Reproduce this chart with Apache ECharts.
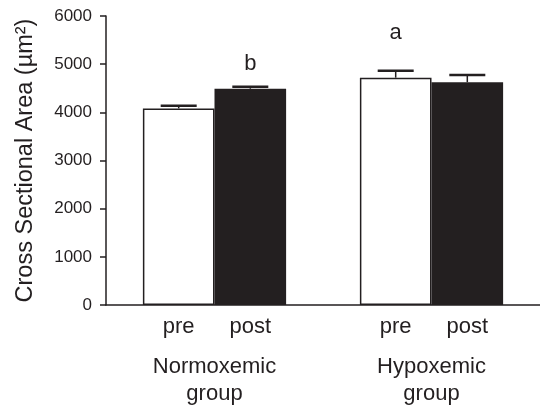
<!DOCTYPE html>
<html>
<head>
<meta charset="utf-8">
<script src="https://cdn.jsdelivr.net/npm/echarts@6/dist/echarts.min.js"></script>
<style>
  html, body { margin: 0; padding: 0; background: #fff; }
  #main { width: 540px; height: 407px; }
</style>
</head>
<body>
<div id="main"></div>
<script>
// groups on the x axis, and the pre / post bars inside each group
var groups = ['Normoxemic\ngroup', 'Hypoxemic\ngroup'];
var phases = ['pre', 'post'];
var preMean = [4082, 4720];
var preErr = [55, 143];
var postMean = [4490, 4626];
var postErr = [40, 150];
// significance letters and the level (axis units) where they sit
var preLetter = ['', 'a'];
var postLetter = ['b', ''];
var preLetterLevel = [0, 5650];
var postLetterLevel = [5000, 0];
var yTicks = [0, 1000, 2000, 3000, 4000, 5000, 6000];

var ink = '#231f20';
var font = '"Liberation Sans", Arial, sans-serif';
var barRatio = 0.33;

var myChart = echarts.init(document.getElementById('main'));

function errorData(mean, err, levels) {
    var out = [];
    for (var i = 0; i < mean.length; i++) {
        out.push([i, mean[i], err[i], levels[i]]);
    }
    return out;
}

// error bar (upper half only) plus letter above it
function makeRenderItem(side, letters) {
    return function (params, api) {
        var cat = api.value(0);
        var mean = api.value(1);
        var err = api.value(2);
        var bw = api.size([1, 0])[0] * barRatio;
        var base = api.coord([cat, mean]);
        var top = api.coord([cat, mean + err]);
        var x = base[0] + side * bw / 2;
        var children = [
            {type: 'line', shape: {x1: x, y1: base[1], x2: x, y2: top[1]},
             style: {stroke: ink, lineWidth: 1.5}},
            {type: 'line', shape: {x1: x - 18, y1: top[1], x2: x + 18, y2: top[1]},
             style: {stroke: ink, lineWidth: 2.5}}
        ];
        var letter = letters[params.dataIndex];
        if (letter) {
            var lp = api.coord([cat, api.value(3)]);
            children.push({type: 'text', x: x, y: lp[1],
                style: {text: letter, fill: ink, font: '22px ' + font,
                        align: 'center', verticalAlign: 'middle'}});
        }
        return {type: 'group', children: children};
    };
}

var option = {
    animation: false,
    grid: {left: 106, right: -8, top: 16, bottom: 97},
    xAxis: {
        type: 'category',
        data: groups,
        axisLine: {lineStyle: {color: ink, width: 1.5}},
        axisTick: {show: false},
        axisLabel: {color: ink, fontSize: 22, fontFamily: font, margin: 48, lineHeight: 27}
    },
    yAxis: {
        type: 'value',
        min: yTicks[0],
        max: yTicks[yTicks.length - 1],
        interval: 1000,
        name: 'Cross Sectional Area (µm²)',
        nameLocation: 'middle',
        nameGap: 68,
        nameTextStyle: {color: ink, fontSize: 23.5, fontFamily: font},
        splitLine: {show: false},
        axisLine: {show: true, lineStyle: {color: ink, width: 1.5}},
        axisTick: {show: true, length: 6, lineStyle: {color: ink, width: 1.5}},
        axisLabel: {color: ink, fontSize: 17, fontFamily: font, margin: 14,
                    formatter: function (v) { return String(v); }}
    },
    series: [
        {
            name: phases[0],
            type: 'bar',
            data: preMean,
            barWidth: (barRatio * 100) + '%',
            barGap: '0%',
            itemStyle: {color: '#fff', borderColor: ink, borderWidth: 1.5},
            label: {show: true, position: 'bottom', distance: 11, formatter: '{a}',
                    color: ink, fontSize: 22, fontFamily: font}
        },
        {
            name: phases[1],
            type: 'bar',
            data: postMean,
            barWidth: (barRatio * 100) + '%',
            barGap: '0%',
            itemStyle: {color: ink},
            label: {show: true, position: 'bottom', distance: 11, formatter: '{a}',
                    color: ink, fontSize: 22, fontFamily: font}
        },
        {
            type: 'custom',
            renderItem: makeRenderItem(-1, preLetter),
            data: errorData(preMean, preErr, preLetterLevel),
            z: 3
        },
        {
            type: 'custom',
            renderItem: makeRenderItem(1, postLetter),
            data: errorData(postMean, postErr, postLetterLevel),
            z: 3
        }
    ]
};

myChart.setOption(option);
</script>
</body>
</html>
